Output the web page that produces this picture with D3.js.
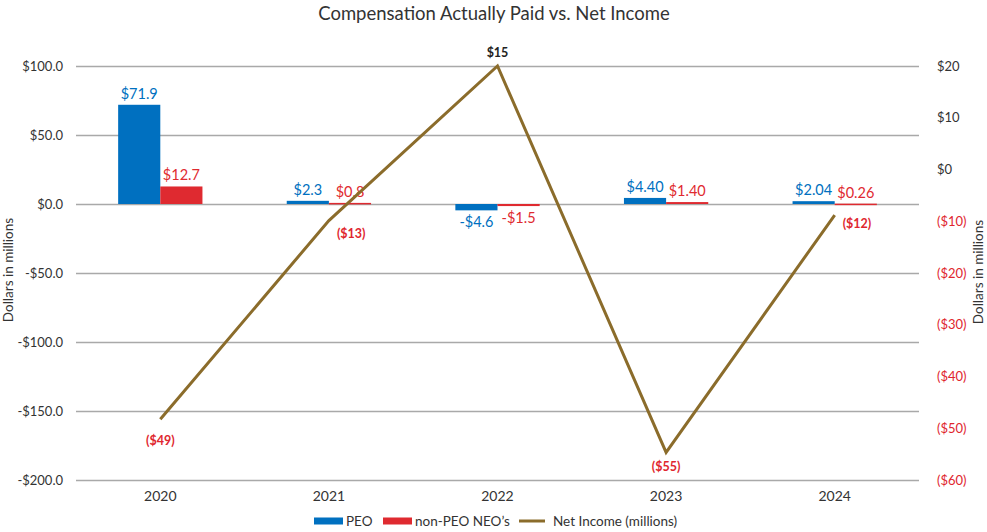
<!DOCTYPE html>
<html>
<head>
<meta charset="utf-8">
<script src="https://cdn.jsdelivr.net/npm/d3@7"></script>
<style>
	body { margin: 0; background: #fff; }
	svg text { font-family: Lato, "Open Sans", sans-serif; }
</style>
</head>
<body>
<svg id="chart" width="987" height="532"></svg>
<script>
// chart data
var years = ['2020', '2021', '2022', '2023', '2024'];
var peo = [71.9, 2.3, -4.6, 4.40, 2.04];
var peoLabels = ['$71.9', '$2.3', '-$4.6', '$4.40', '$2.04'];
var nonPeo = [12.7, 0.8, -1.5, 1.40, 0.26];
var nonPeoLabels = ['$12.7', '$0.8', '-$1.5', '$1.40', '$0.26'];
var netIncome = [-49, -13, 15, -55, -12];
var netIncomeLabels = ['($49)', '($13)', '$15', '($55)', '($12)'];
var leftTicks = [100, 50, 0, -50, -100, -150, -200];
var rightTicks = [20, 10, 0, -10, -20, -30, -40, -50, -60];

// placement of the net income labels relative to each point
var niLabelPos = [
	{dx: 0, dy: 26, anchor: 'middle'},
	{dx: 8, dy: 17, anchor: 'start'},
	{dx: 0, dy: -9, anchor: 'middle'},
	{dx: 0, dy: 19, anchor: 'middle'},
	{dx: 8, dy: 13, anchor: 'start'}
];

var colors = {
	peo: '#0070C0',
	nonPeo: '#DF2A30',
	line: '#8B6C2B',
	grid: '#A9A9A9',
	text: '#333333',
	neg: '#E0262E'
};

var svg = d3.select('#chart');
var plot = {left: 76, right: 919, top: 66, bottom: 480};

var x = d3.scaleBand()
	.domain(years)
	.range([plot.left, plot.right]);

var barX = d3.scaleBand()
	.domain(['peo', 'nonPeo'])
	.range([0, x.bandwidth()])
	.paddingInner(0)
	.paddingOuter(1);

var yLeft = d3.scaleLinear().domain([-200, 100]).range([plot.bottom, plot.top]);
var yRight = d3.scaleLinear().domain([-60, 20]).range([plot.bottom, plot.top]);
// the line in the source is drawn against its own secondary range
var yLine = d3.scaleLinear().domain([-60, 15]).range([plot.bottom, plot.top]);

var fmtLeft = function (d) {
	return (d < 0 ? '-$' : '$') + Math.abs(d).toFixed(1);
};
var fmtRight = function (d) {
	return d < 0 ? '($' + Math.abs(d) + ')' : '$' + d;
};

// title
svg.append('text')
	.attr('x', 494)
	.attr('y', 20)
	.attr('text-anchor', 'middle')
	.attr('font-size', 18.5)
	.attr('fill', colors.text)
	.text('Compensation Actually Paid vs. Net Income');

// left axis with gridlines
var gLeft = svg.append('g')
	.attr('transform', 'translate(' + plot.left + ',0)')
	.call(d3.axisLeft(yLeft)
		.tickValues(leftTicks)
		.tickSize(-(plot.right - plot.left))
		.tickPadding(13)
		.tickFormat(fmtLeft));
gLeft.select('.domain').remove();
gLeft.selectAll('.tick line').attr('stroke', colors.grid).attr('stroke-width', 1.4);
gLeft.selectAll('.tick text')
	.attr('font-size', 13)
	.attr('fill', colors.text);

// right axis labels only
var gRight = svg.append('g')
	.attr('transform', 'translate(' + plot.right + ',0)')
	.call(d3.axisRight(yRight)
		.tickValues(rightTicks)
		.tickSize(0)
		.tickPadding(18)
		.tickFormat(fmtRight));
gRight.select('.domain').remove();
gRight.selectAll('.tick text')
	.attr('font-size', 13)
	.attr('fill', function (d) { return d < 0 ? colors.neg : colors.text; });

// x labels
svg.append('g')
	.selectAll('text')
	.data(years)
	.join('text')
	.attr('x', function (d) { return x(d) + x.bandwidth() / 2; })
	.attr('y', 501)
	.attr('text-anchor', 'middle')
	.attr('font-size', 14)
	.attr('fill', colors.text)
	.text(function (d) { return d; });

// axis titles
svg.append('text')
	.attr('transform', 'translate(13,270) rotate(-90)')
	.attr('text-anchor', 'middle')
	.attr('font-size', 13.5)
	.attr('fill', colors.text)
	.text('Dollars in millions');
svg.append('text')
	.attr('transform', 'translate(983,272) rotate(-90)')
	.attr('text-anchor', 'middle')
	.attr('font-size', 13.5)
	.attr('fill', colors.text)
	.text('Dollars in millions');

// bars
var series = [
	{key: 'peo', values: peo, labels: peoLabels, color: colors.peo},
	{key: 'nonPeo', values: nonPeo, labels: nonPeoLabels, color: colors.nonPeo}
];

series.forEach(function (s) {
	var g = svg.append('g');
	g.selectAll('rect')
		.data(s.values)
		.join('rect')
		.attr('x', function (d, i) { return x(years[i]) + barX(s.key); })
		.attr('width', barX.bandwidth())
		.attr('y', function (d) { return yLeft(Math.max(0, d)); })
		.attr('height', function (d) { return Math.max(1.5, Math.abs(yLeft(d) - yLeft(0))); })
		.attr('fill', s.color);
	g.selectAll('text')
		.data(s.values)
		.join('text')
		.attr('x', function (d, i) { return x(years[i]) + barX(s.key) + barX.bandwidth() / 2; })
		.attr('y', function (d) { return d >= 0 ? yLeft(d) - 6 : yLeft(d) + 17; })
		.attr('text-anchor', 'middle')
		.attr('font-size', 14.5)
		.attr('fill', s.color)
		.text(function (d, i) { return s.labels[i]; });
});

// net income line
var line = d3.line()
	.x(function (d, i) { return x(years[i]) + x.bandwidth() / 2; })
	.y(function (d) { return yLine(d); });

svg.append('path')
	.datum(netIncome)
	.attr('d', line)
	.attr('fill', 'none')
	.attr('stroke', colors.line)
	.attr('stroke-width', 3);

svg.append('g')
	.selectAll('text')
	.data(netIncome)
	.join('text')
	.attr('x', function (d, i) { return x(years[i]) + x.bandwidth() / 2 + niLabelPos[i].dx; })
	.attr('y', function (d, i) { return yLine(d) + niLabelPos[i].dy; })
	.attr('text-anchor', function (d, i) { return niLabelPos[i].anchor; })
	.attr('font-size', 12.5)
	.attr('font-weight', 'bold')
	.attr('fill', function (d) { return d < 0 ? colors.neg : '#222'; })
	.text(function (d, i) { return netIncomeLabels[i]; });

// legend
var legend = svg.append('g').attr('transform', 'translate(0,521)');
var items = [
	{label: 'PEO', color: colors.peo, type: 'bar', x: 314},
	{label: 'non-PEO NEO\u2019s', color: colors.nonPeo, type: 'bar', x: 383},
	{label: 'Net Income (millions)', color: colors.line, type: 'line', x: 519}
];
items.forEach(function (it) {
	if (it.type === 'bar') {
		legend.append('rect')
			.attr('x', it.x).attr('y', -3.5)
			.attr('width', 29).attr('height', 7)
			.attr('fill', it.color);
	} else {
		legend.append('line')
			.attr('x1', it.x).attr('x2', it.x + 26)
			.attr('y1', 0).attr('y2', 0)
			.attr('stroke', it.color).attr('stroke-width', 3);
	}
	legend.append('text')
		.attr('x', it.x + (it.type === 'bar' ? 32 : 34))
		.attr('y', 5)
		.attr('font-size', 13.5)
		.attr('fill', colors.text)
		.text(it.label);
});
</script>
</body>
</html>
